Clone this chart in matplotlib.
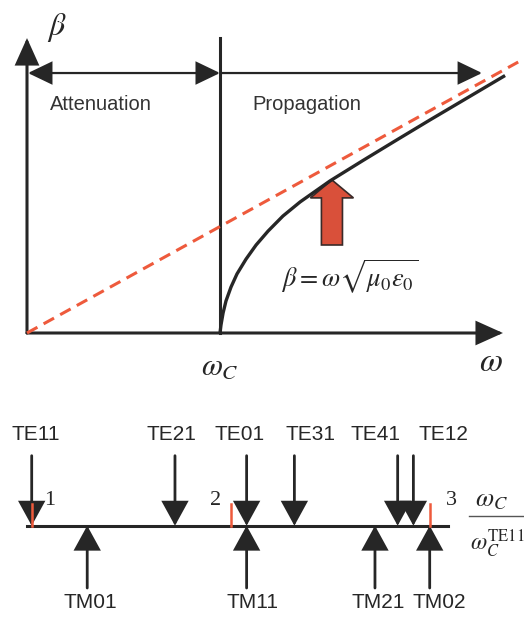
import numpy as np
import matplotlib.pyplot as plt
from matplotlib.patches import FancyArrow, FancyArrowPatch

plt.rcParams['mathtext.fontset'] = 'stix'
plt.rcParams['font.family'] = ['Liberation Sans', 'DejaVu Sans']

# dispersion curve (omega in units of the cutoff frequency)
omega = [1.0, 1.005, 1.016, 1.031, 1.057, 1.088, 1.135, 1.187, 1.249, 1.326,
         1.415, 1.570, 1.741, 1.917, 2.088, 2.259, 2.477]
beta = [0.0, 0.041, 0.104, 0.166, 0.238, 0.306, 0.383, 0.456, 0.528, 0.606,
        0.679, 0.788, 0.894, 1.001, 1.104, 1.205, 1.334]
omega_light = [0.0, 2.545]
beta_light = [0.0, 1.404]
omega_c = 1.0

# circular waveguide cutoffs relative to TE11
te_modes = ['TE11', 'TE21', 'TE01', 'TE31', 'TE41', 'TE12']
te_cutoff = [1.0, 1.72, 2.08, 2.32, 2.839, 2.918]
tm_modes = ['TM01', 'TM11', 'TM21', 'TM02']
tm_cutoff = [1.279, 2.08, 2.725, 3.0]
ratio_ticks = [1, 2, 3]

# horizontal nudges for the mode labels
te_label_dx = [0.02, -0.02, -0.035, 0.08, -0.11, 0.15]
tm_label_dx = [0.015, 0.03, 0.015, 0.05]

ink = '#262626'
red = '#ee5a3c'

fig = plt.figure(figsize=(5.24, 6.17), dpi=100)

# ---- upper panel: beta vs omega ----
ax = fig.add_axes([0, 0, 1, 1])
ax.set_xlim(-27 / 193, 497 / 193)
ax.set_ylim(-284 / 193, 333 / 193)
ax.axis('off')

def arrow(a, p0, p1, style, lw, ms):
    a.add_patch(FancyArrowPatch(p0, p1, arrowstyle=style, lw=lw, color=ink,
                                mutation_scale=ms, shrinkA=0, shrinkB=0,
                                joinstyle='miter'))

arrow(ax, (0, 0), (0, 1.528), '-|>,head_length=0.8,head_width=0.36', 2.2, 20)
arrow(ax, (0, 0), (2.466, 0), '-|>,head_length=0.8,head_width=0.36', 2.2, 20)
ax.plot([omega_c, omega_c], [0, 1.528], color=ink, lw=2.2)
arrow(ax, (0.005, 1.347), (omega_c, 1.347), '<|-|>,head_length=0.75,head_width=0.36', 1.6, 20)
arrow(ax, (omega_c, 1.347), (2.358, 1.347), '-|>,head_length=0.75,head_width=0.36', 1.6, 20)

ax.plot(omega_light, beta_light, color=red, lw=2.2, linestyle=(0, (3.9, 2.3)))
ax.plot(omega, beta, color=ink, lw=2.4, solid_capstyle='butt', solid_joinstyle='round')

ax.add_patch(FancyArrow(1.580, 0.456, 0, 0.337, width=0.109, head_width=0.223,
                        head_length=0.093, length_includes_head=True,
                        facecolor='#d9503a', edgecolor='#3a2a28', lw=1.2))

ax.text(0.155, 1.585, r'$\beta$', fontsize=23, ha='center', va='center', color=ink)
ax.text(2.404, -0.155, r'$\omega$', fontsize=24, ha='center', va='center', color=ink)
ax.text(omega_c, -0.175, r'$\omega_C$', fontsize=22, ha='center', va='center', color=ink)
ax.text(0.119, 1.185, 'Attenuation', fontsize=14.5, ha='left', va='center', color='#333333')
ax.text(1.166, 1.185, 'Propagation', fontsize=14.5, ha='left', va='center', color='#333333')
ax.text(1.674, 0.29, r'$\beta = \omega\sqrt{\mu_0\varepsilon_0}$', fontsize=19,
        ha='center', va='center', color=ink)

# ---- lower panel: mode cutoff chart ----
bx = fig.add_axes([0, 0, 1, 1])
bx.set_xlim(1 - 31.7 / 199, 1 + 492.3 / 199)
bx.set_ylim(-91.3 / 70, 525.7 / 70)
bx.axis('off')
bx.patch.set_alpha(0)

bx.plot([0.975, 3.094], [0, 0], color=ink, lw=2.2, zorder=2)
head = '-|>,head_length=0.62,head_width=0.34'
for x in te_cutoff:
    arrow(bx, (x, 1.0), (x, 0), head, 2.0, 24)
for x in tm_cutoff:
    arrow(bx, (x, -0.89), (x, 0), head, 2.0, 24)

for name, x, dx in zip(te_modes, te_cutoff, te_label_dx):
    bx.text(x + dx, 1.296, name, fontsize=15, ha='center', va='center', color=ink)
for name, x, dx in zip(tm_modes, tm_cutoff, tm_label_dx):
    bx.text(x + dx, -1.10, name, fontsize=15, ha='center', va='center', color=ink)

num_dx = [0.09, -0.075, 0.11]
for t, dx in zip(ratio_ticks, num_dx):
    bx.plot([t, t], [0, 0.31], color=red, lw=1.8, zorder=3)
    bx.text(t + dx, 0.36, str(t), fontsize=16, family='Liberation Serif',
            ha='center', va='center', color=ink)

bx.text(3.31, 0.37, r'$\omega_C$', fontsize=19, ha='center', va='center', color=ink)
bx.plot([3.199, 3.5], [0.14, 0.14], color='#555555', lw=1.0, clip_on=False)
bx.text(3.205, -0.26, r'$\omega_C^{\mathrm{TE11}}$', fontsize=17, ha='left',
        va='center', color=ink)

fig.savefig('out.png', dpi=100)
